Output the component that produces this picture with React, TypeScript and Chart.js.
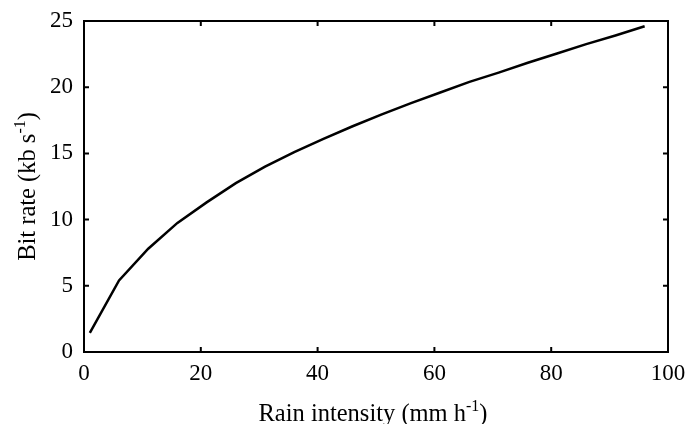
import React, { useEffect, useRef } from 'react';
import { Chart, registerables } from 'chart.js';

Chart.register(...registerables);

const rainIntensity = [1, 6, 11, 16, 21, 26, 31, 36, 41, 46, 51, 56, 61, 66, 71, 76, 81, 86, 91, 96];
const bitRate = [1.45, 5.4, 7.8, 9.75, 11.3, 12.75, 14.0, 15.1, 16.1, 17.05, 17.95, 18.8, 19.6, 20.4, 21.1, 21.85, 22.55, 23.25, 23.9, 24.6];
const xTicks = [0, 20, 40, 60, 80, 100];
const yTicks = [0, 5, 10, 15, 20, 25];
const xTitleParts = ['Rain intensity (mm h', '-1', ')'];
const yTitleParts = ['Bit rate (kb s', '-1', ')'];

const FONT = '"Liberation Serif", "Times New Roman", serif';

function drawSupTitle(ctx: CanvasRenderingContext2D, parts: string[], cx: number, baseline: number) {
  const mainFont = `24.5px ${FONT}`;
  const supFont = `16px ${FONT}`;
  ctx.font = mainFont;
  const w1 = ctx.measureText(parts[0]).width;
  const w3 = ctx.measureText(parts[2]).width;
  ctx.font = supFont;
  const w2 = ctx.measureText(parts[1]).width;
  const total = w1 + w2 + w3;
  let x = cx - total / 2;
  ctx.textAlign = 'left';
  ctx.textBaseline = 'alphabetic';
  ctx.fillStyle = '#000';
  ctx.font = mainFont;
  ctx.fillText(parts[0], x, baseline);
  x += w1;
  ctx.font = supFont;
  ctx.fillText(parts[1], x, baseline - 10);
  x += w2;
  ctx.font = mainFont;
  ctx.fillText(parts[2], x, baseline);
}

const framePlugin = {
  id: 'frame',
  afterDraw(chart: any) {
    const { ctx, chartArea: a, scales } = chart;
    ctx.save();
    ctx.strokeStyle = '#000';
    ctx.lineWidth = 2;
    ctx.strokeRect(a.left, a.top, a.right - a.left, a.bottom - a.top);
    const L = 5;
    ctx.beginPath();
    for (const v of xTicks) {
      const px = scales.x.getPixelForValue(v);
      ctx.moveTo(px, a.bottom);
      ctx.lineTo(px, a.bottom - L);
      ctx.moveTo(px, a.top);
      ctx.lineTo(px, a.top + L);
    }
    for (const v of yTicks) {
      const py = scales.y.getPixelForValue(v);
      ctx.moveTo(a.left, py);
      ctx.lineTo(a.left + L, py);
      ctx.moveTo(a.right, py);
      ctx.lineTo(a.right - L, py);
    }
    ctx.stroke();

    drawSupTitle(ctx, xTitleParts, (a.left + a.right) / 2 - 3, 421);

    ctx.translate(35, (a.top + a.bottom) / 2);
    ctx.rotate(-Math.PI / 2);
    drawSupTitle(ctx, yTitleParts, 0, 0);
    ctx.restore();
  },
};

export default function App() {
  const ref = useRef<HTMLCanvasElement | null>(null);

  useEffect(() => {
    if (!ref.current) return;
    const chart = new Chart(ref.current, {
      type: 'line',
      data: {
        datasets: [
          {
            data: rainIntensity.map((x, i) => ({ x, y: bitRate[i] })),
            borderColor: '#000',
            borderWidth: 2.5,
            pointRadius: 0,
            tension: 0,
            fill: false,
          },
        ],
      },
      options: {
        animation: false,
        responsive: false,
        devicePixelRatio: 1,
        layout: { padding: { left: 0, top: 21, right: 17, bottom: 0 } },
        plugins: { legend: { display: false }, tooltip: { enabled: false }, title: { display: false } },
        scales: {
          x: {
            type: 'linear',
            min: 0,
            max: 100,
            afterFit: (s: any) => { s.height = 72; s.paddingLeft = 0; s.paddingRight = 0; },
            afterBuildTicks: (s: any) => { s.ticks = xTicks.map((v) => ({ value: v })); },
            grid: { display: false, drawTicks: false },
            border: { display: false },
            ticks: { color: '#000', font: { family: FONT, size: 23 }, padding: 8, maxRotation: 0 },
          },
          y: {
            type: 'linear',
            min: 0,
            max: 25,
            afterFit: (s: any) => { s.width = 84; s.paddingTop = 0; s.paddingBottom = 0; },
            afterBuildTicks: (s: any) => { s.ticks = yTicks.map((v) => ({ value: v })); },
            grid: { display: false, drawTicks: false },
            border: { display: false },
            ticks: { color: '#000', font: { family: FONT, size: 23 }, padding: 11 },
          },
        },
      },
      plugins: [framePlugin],
    });
    return () => chart.destroy();
  }, []);

  return (
    <div style={{ position: 'fixed', left: 0, top: 0, width: 685, height: 424, background: '#fff' }}>
      <canvas ref={ref} width={685} height={424} />
    </div>
  );
}
